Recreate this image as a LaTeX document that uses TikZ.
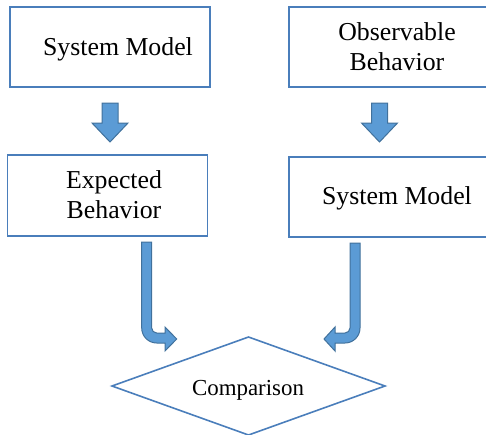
\documentclass[tikz,border=0pt]{standalone}
\usepackage{fontspec}
\setmainfont{Liberation Serif}
\usetikzlibrary{shapes.geometric}
\definecolor{boxblue}{HTML}{4A7EBB}
\definecolor{arrfill}{HTML}{5B9BD5}
\definecolor{arrline}{HTML}{41719C}
\begin{document}
\begin{tikzpicture}[x=1pt,y=1pt,
  box/.style={draw=boxblue,line width=1.8pt,inner sep=0pt,outer sep=0pt},
  lbl/.style={inner sep=0pt,anchor=base,font=\fontsize{25.8}{30}\selectfont},
  lbl2/.style={inner sep=0pt,anchor=center,align=center,font=\fontsize{25.8}{30}\selectfont},
  blockarrow/.style={fill=arrfill,draw=arrline,line width=1pt,line join=miter}]
\useasboundingbox (0,0) rectangle (486,-434);
\clip (0,0) rectangle (486,-434);
% boxes
\node[box,minimum width=200pt,minimum height=80pt] (b1) at (110,-47) {};
\node[box,minimum width=211pt,minimum height=80pt] (b2) at (394.5,-47) {};
\node[box,minimum width=200pt,minimum height=81pt] (b3) at (107.5,-195.5) {};
\node[box,minimum width=211pt,minimum height=80pt] (b4) at (394.5,-197) {};
% diamond
\node[draw=boxblue,line width=1.6pt,diamond,inner sep=0pt,outer sep=0pt,minimum width=273pt,minimum height=98pt] (cmp) at (248.5,-386) {};
% labels
\node[lbl] (t1) at (118,-55) {System Model};
\node[lbl2] (t2) at (397,-47) {Observable\\Behavior};
\node[lbl2] (t3) at (114,-195) {Expected\\Behavior};
\node[lbl] (t4) at (397,-204) {System Model};
\node[inner sep=0pt,anchor=base,font=\fontsize{22.9}{27}\selectfont] (tc) at (248,-395) {Comparison};
% down arrows
\draw[blockarrow] (102,-103) -- (118,-103) -- (118,-123) -- (128,-123) -- (110,-142) -- (92,-123) -- (102,-123) -- cycle;
\draw[blockarrow] (371.5,-103) -- (387.5,-103) -- (387.5,-123) -- (397.5,-123) -- (379.5,-142) -- (361.5,-123) -- (371.5,-123) -- cycle;
% curved arrows
\draw[blockarrow] (141.7,-242) -- (151.7,-242) -- (151.7,-328) arc[start angle=180,end angle=270,radius=5]
  -- (165,-333) -- (165,-327) -- (176.7,-339) -- (165,-351) -- (165,-343) -- (156.7,-343)
  arc[start angle=270,end angle=180,radius=15] -- cycle;
\draw[blockarrow] (360,-243) -- (350,-243) -- (350,-328) arc[start angle=0,end angle=-90,radius=5]
  -- (335,-333) -- (335,-327) -- (324,-339) -- (335,-351) -- (335,-343) -- (345,-343)
  arc[start angle=-90,end angle=0,radius=15] -- cycle;
\end{tikzpicture}
\end{document}
